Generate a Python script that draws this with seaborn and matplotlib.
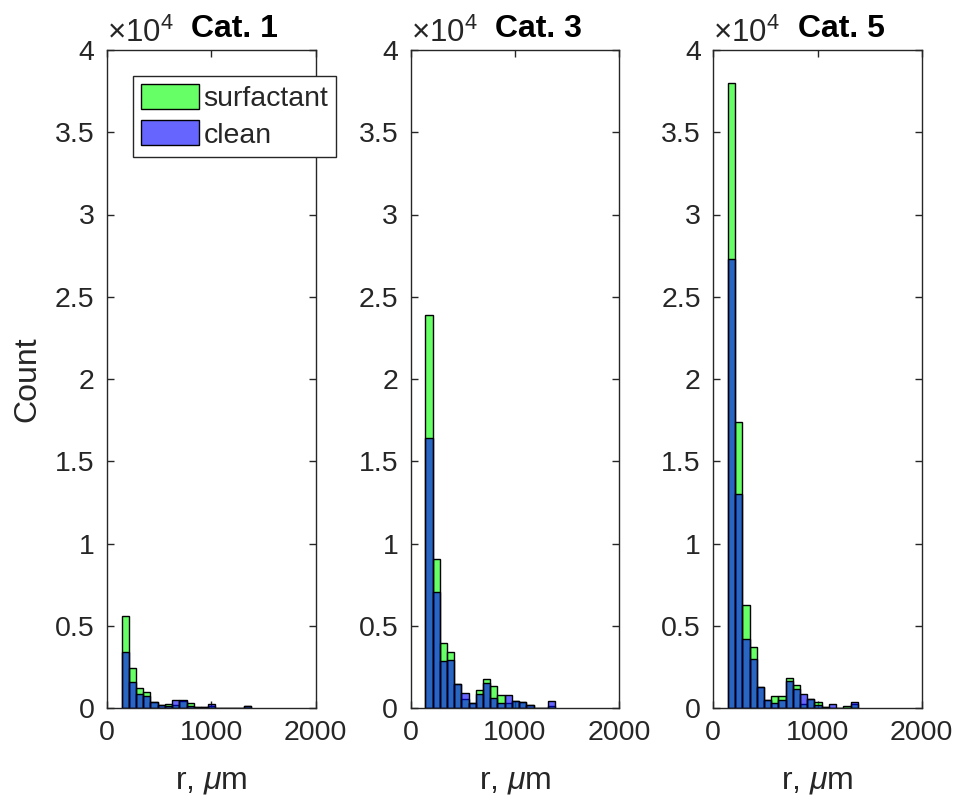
import numpy as np
import pandas as pd
import matplotlib
matplotlib.use("Agg")
import matplotlib.pyplot as plt
import seaborn as sns
from matplotlib.ticker import FuncFormatter, FixedLocator

# ---------------- data (counts per bin) ----------------
categories = ["Cat. 1", "Cat. 3", "Cat. 5"]
bin_start = 140.0
bin_width = 69.2
n_bins = 18

cat1_surfactant = [5610, 2410, 1200, 980, 390, 180, 220, 180, 450, 290, 80, 80, 100, 10, 10, 10, 10, 120]
cat1_clean      = [3410, 1570, 880, 710, 390, 180, 100, 510, 470, 140, 80, 80, 220, 10, 10, 10, 10, 120]

cat3_surfactant = [23900, 9080, 3940, 3430, 1470, 570, 330, 1080, 1760, 1310, 800, 330, 400, 390, 180, 20, 0, 120]
cat3_clean      = [16400, 7040, 2880, 2940, 1440, 900, 330, 880, 1510, 630, 330, 800, 430, 390, 180, 20, 0, 410]

cat5_surfactant = [38000, 17400, 6250, 3700, 1290, 510, 700, 700, 1850, 1415, 260, 570, 390, 80, 0, 0, 130, 260]
cat5_clean      = [27300, 13000, 4170, 2960, 1300, 510, 300, 470, 1670, 1160, 850, 560, 200, 80, 260, 0, 30, 390]

series_labels = ["surfactant", "clean"]
x_ticks = [0, 1000, 2000]
y_ticks = [0, 5000, 10000, 15000, 20000, 25000, 30000, 35000, 40000]

surf_data = [cat1_surfactant, cat3_surfactant, cat5_surfactant]
clean_data = [cat1_clean, cat3_clean, cat5_clean]

# ---------------- style ----------------
sns.set_theme(style="white")
plt.rcParams["font.family"] = ["Liberation Sans", "DejaVu Sans"]
plt.rcParams["mathtext.fontset"] = "custom"
plt.rcParams["mathtext.rm"] = "Liberation Sans"
plt.rcParams["mathtext.it"] = "Liberation Sans:italic"
plt.rcParams["mathtext.bf"] = "Liberation Sans:bold"

AX_COLOR = "#262626"
FS = 20.5
LABEL_FS = 23

edges = [float(e) for e in bin_start + bin_width * np.arange(n_bins + 1)]
centers = [(edges[k] + edges[k + 1]) / 2 for k in range(n_bins)]

fig = plt.figure(figsize=(9.59, 8.0), dpi=100)
lefts = [107 / 959, 410.7 / 959, 713.3 / 959]
bottom = 1 - 708 / 800
height = (708 - 50) / 800
width = 208.5 / 959

for i, cat in enumerate(categories):
    ax = fig.add_axes([lefts[i], bottom, width, height])
    df_s = pd.DataFrame({"r": centers, "count": surf_data[i]})
    df_c = pd.DataFrame({"r": centers, "count": clean_data[i]})
    sns.histplot(data=df_s, x="r", weights="count", bins=edges, color=(0, 1, 0),
                 alpha=0.6, edgecolor="black", linewidth=1.0, ax=ax, label=series_labels[0])
    sns.histplot(data=df_c, x="r", weights="count", bins=edges, color=(0, 0, 1),
                 alpha=0.6, edgecolor="black", linewidth=1.0, ax=ax, label=series_labels[1])

    ax.set_xlim(0, 2000)
    ax.set_ylim(0, 40000)
    ax.xaxis.set_major_locator(FixedLocator(x_ticks))
    ax.yaxis.set_major_locator(FixedLocator(y_ticks))
    ax.yaxis.set_major_formatter(FuncFormatter(lambda v, p: f"{v / 1e4:g}"))
    ax.tick_params(direction="in", length=5, width=1.0, colors=AX_COLOR,
                   labelsize=FS, top=True, right=True, left=True, bottom=True,
                   pad=9)
    for sp in ax.spines.values():
        sp.set_visible(True)
        sp.set_color(AX_COLOR)
        sp.set_linewidth(1.0)

    ax.set_xlabel(r"r, $\mu$m", fontsize=LABEL_FS, color=AX_COLOR, labelpad=14)
    if i == 0:
        ax.set_ylabel("Count", fontsize=LABEL_FS, color=AX_COLOR, labelpad=9)
    else:
        ax.set_ylabel("")

    ax.text(0.0, 1.012, r"×10$^{4}$", transform=ax.transAxes, fontsize=22.5,
            color=AX_COLOR, ha="left", va="baseline")
    ax.text(0.613, 1.02, cat, transform=ax.transAxes, fontsize=23,
            fontweight="bold", color="black", ha="center", va="baseline")

    if i == 0:
        leg = ax.legend(loc="upper left", bbox_to_anchor=(133 / 959, 1 - 76 / 800),
                        bbox_transform=fig.transFigure, borderaxespad=0,
                        fontsize=FS, frameon=True, fancybox=False, framealpha=1,
                        handlelength=2.04, handleheight=0.98, handletextpad=0.15,
                        labelspacing=0.28, borderpad=0.28)
        leg.get_frame().set_edgecolor(AX_COLOR)
        leg.get_frame().set_linewidth(1.0)
        for t in leg.get_texts():
            t.set_color(AX_COLOR)

fig.savefig("out.png", dpi=100)
